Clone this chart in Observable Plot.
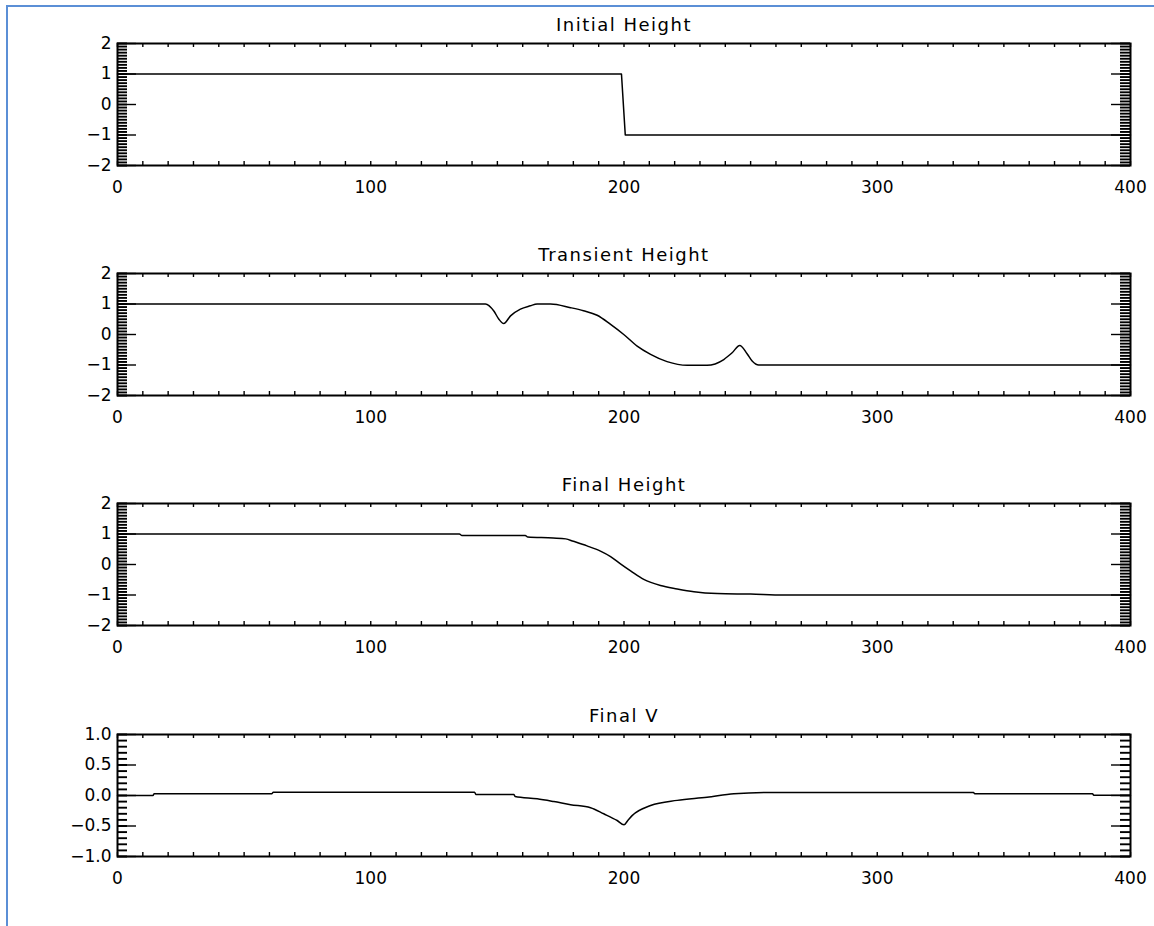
<!DOCTYPE html>
<html>
<head>
<meta charset="utf-8">
<script src="https://cdn.jsdelivr.net/npm/d3@7"></script>
<script src="https://cdn.jsdelivr.net/npm/@observablehq/plot@0.6"></script>
<style>
  html, body { margin: 0; padding: 0; background: white; }
  #root { position: relative; width: 1154px; height: 926px; background: white; overflow: hidden; }
  .panel { position: absolute; left: 0; }
  .border-h { position: absolute; left: 6px; top: 5px; width: 1148px; height: 2px; background: #5b8fd6; }
  .border-v { position: absolute; left: 6px; top: 5px; width: 2px; height: 921px; background: #5b8fd6; }
</style>
</head>
<body>
<div id="root">
  <div class="border-h"></div>
  <div class="border-v"></div>
</div>
<script>
// ---- Data ----
const panelTitles = ["Initial Height", "Transient Height", "Final Height", "Final V"];

const xTickLabels = [0, 100, 200, 300, 400];

const initialX = [0, 199, 200.5, 400];
const initialY = [1, 1, -1, -1];

const transientX = [0, 145.3, 148.6, 150.6, 152.5, 155.2, 159.1, 163, 165.7, 171, 178.9, 184, 189.4, 194.7, 199.9, 205.2, 210.5, 217, 225, 232.8, 239.4, 242.7, 245.7, 248.6, 250.6, 253.2, 400];
const transientY = [1, 1, 0.77, 0.5, 0.36, 0.61, 0.83, 0.94, 1.0, 1.0, 0.88, 0.78, 0.63, 0.33, 0.0, -0.38, -0.65, -0.89, -1.01, -1.01, -0.82, -0.6, -0.36, -0.63, -0.87, -1.0, -1.0];

const finalX = [0, 135, 136, 161, 162, 172, 177, 180, 185.4, 190.7, 194.7, 198.6, 202.6, 207.8, 214.4, 221, 227.6, 236.8, 250, 263, 400];
const finalY = [1, 1, 0.95, 0.95, 0.9, 0.87, 0.84, 0.76, 0.61, 0.44, 0.26, 0.02, -0.21, -0.49, -0.69, -0.8, -0.89, -0.95, -0.97, -1.0, -1.0];

const finalVX = [0, 14, 14.5, 61, 61.5, 141, 141.5, 156.5, 157, 165.7, 172.3, 178.9, 186.8, 192, 197.3, 200, 201.5, 203.2, 210.5, 221, 232.8, 243.4, 259, 338, 338.5, 385, 385.5, 400];
const finalVY = [0, 0, 0.03, 0.03, 0.055, 0.055, 0.016, 0.016, -0.016, -0.055, -0.1, -0.15, -0.2, -0.3, -0.41, -0.48, -0.41, -0.33, -0.165, -0.08, -0.03, 0.03, 0.05, 0.05, 0.028, 0.028, 0.005, 0.005];

const heightDomain = [-2, 2];
const heightTicks = [-2, -1, 0, 1, 2];
const vDomain = [-1, 1];
const vTicks = [-1, -0.5, 0, 0.5, 1];

// ---- Drawing ----
const W = 1154, H = 230, mL = 117, mR = 24, mT = 40, mB = 68;
const innerW = W - mL - mR, innerH = H - mT - mB;
const xMinor = d3.range(0, 401, 10);

function panel(title, xs, ys, yDomain, yMajor, yFormat, curve) {
  const data = xs.map((x, i) => ({x, y: ys[i]}));
  const yMinor = d3.range(Math.round(yDomain[0] * 10), Math.round(yDomain[1] * 10) + 1).map(d => d / 10);
  const tk = {stroke: "black", strokeWidth: 1.4};
  const tky = {stroke: "black", strokeWidth: 1.9};
  const svg = Plot.plot({
    width: W, height: H,
    marginLeft: mL, marginRight: mR, marginTop: mT, marginBottom: mB,
    x: {domain: [0, 400], label: null},
    y: {domain: yDomain, label: null},
    style: {fontFamily: "DejaVu Sans, sans-serif", fontSize: "17px", color: "black", background: "transparent"},
    marks: [
      Plot.tickX(xMinor, {x: d => d, insetTop: innerH - 4, ...tk}),
      Plot.tickX(xMinor, {x: d => d, insetBottom: innerH - 4, ...tk}),
      Plot.tickY(yMinor, {y: d => d, insetRight: innerW - 10, ...tky}),
      Plot.tickY(yMinor, {y: d => d, insetLeft: innerW - 10, ...tky}),
      Plot.tickY(yMajor, {y: d => d, insetRight: innerW - 19, ...tk}),
      Plot.tickY(yMajor, {y: d => d, insetLeft: innerW - 19, ...tk}),
      Plot.line(data, {x: "x", y: "y", stroke: "black", strokeWidth: 1.5, curve}),
      Plot.frame({stroke: "black", strokeWidth: 2}),
      Plot.axisX({ticks: xTickLabels, tickSize: 0, tickPadding: 15, fontSize: 17, tickFormat: d => String(d), label: null}),
      Plot.axisY({ticks: yMajor, tickSize: 0, tickPadding: 6, fontSize: 17, tickFormat: yFormat, label: null}),
      Plot.text([title], {text: d => d, frameAnchor: "top", lineAnchor: "middle", dy: -18, fontSize: 18, fill: "black"})
    ]
  });
  d3.select(svg).selectAll("g[aria-label='text'] text").attr("letter-spacing", "1.5px");
  return svg;
}

const specs = [
  [panelTitles[0], initialX, initialY, heightDomain, heightTicks, d3.format("d"), "linear"],
  [panelTitles[1], transientX, transientY, heightDomain, heightTicks, d3.format("d"), "monotone-x"],
  [panelTitles[2], finalX, finalY, heightDomain, heightTicks, d3.format("d"), "monotone-x"],
  [panelTitles[3], finalVX, finalVY, vDomain, vTicks, d3.format(".1f"), "monotone-x"]
];
const tops = [2.5, 232.7, 462.7, 694.3];
const root = document.getElementById("root");
specs.forEach((s, i) => {
  const div = document.createElement("div");
  div.className = "panel";
  div.style.top = tops[i] + "px";
  div.appendChild(panel(...s));
  root.appendChild(div);
});
</script>
</body>
</html>
